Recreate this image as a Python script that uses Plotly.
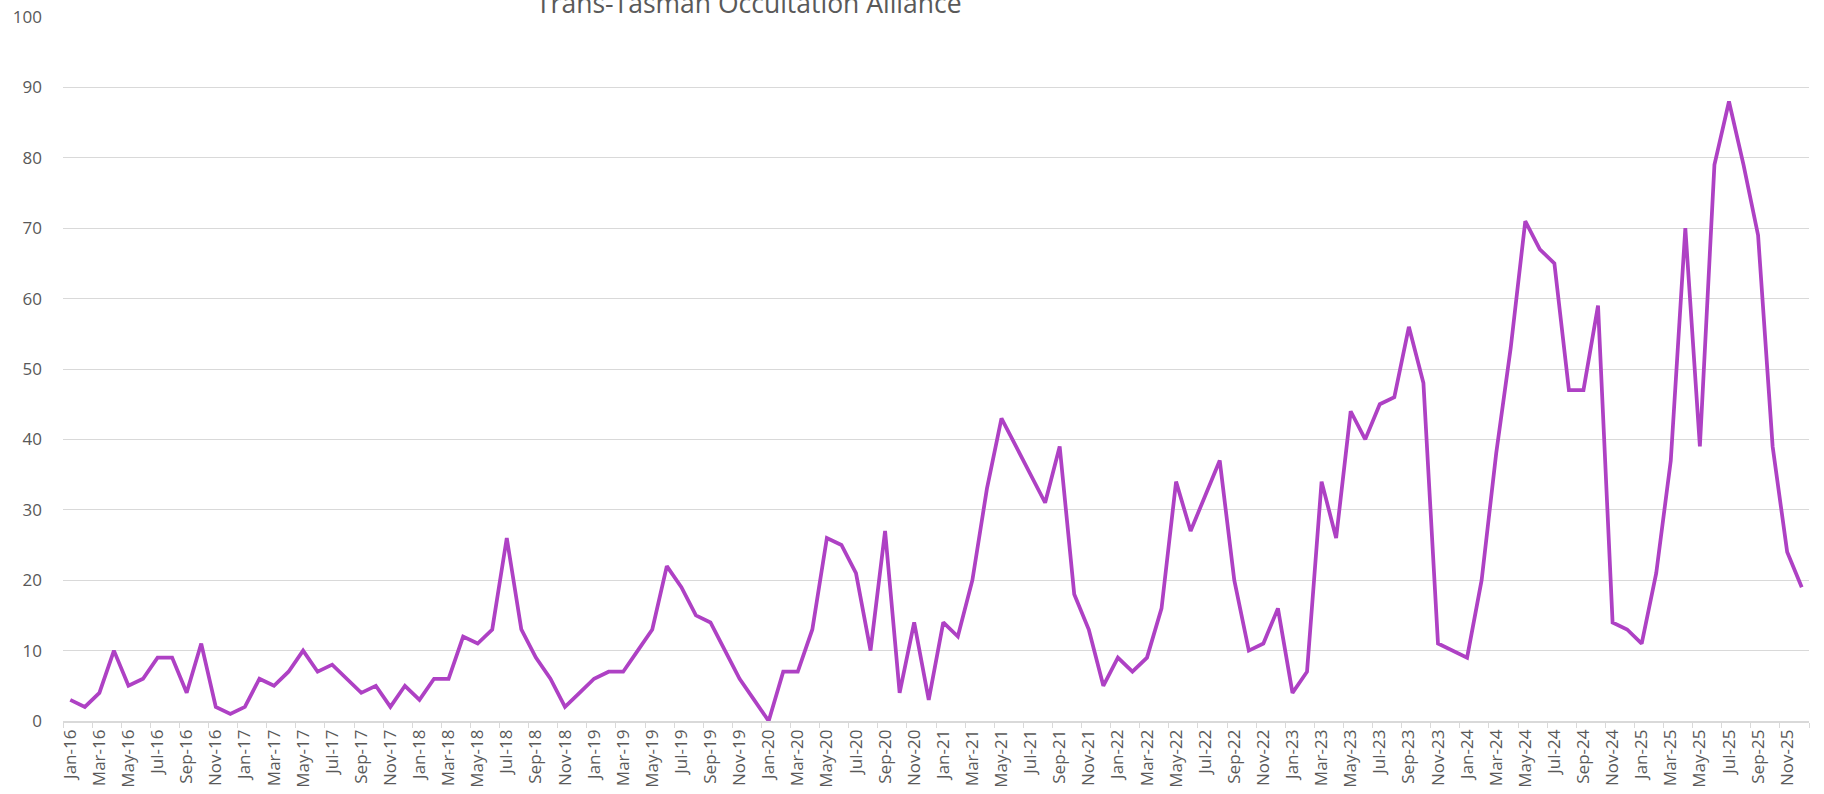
import plotly.graph_objects as go

MONTHS = ["Jan", "Feb", "Mar", "Apr", "May", "Jun", "Jul", "Aug", "Sep", "Oct", "Nov", "Dec"]
YEARS = ["16", "17", "18", "19", "20", "21", "22", "23", "24", "25"]
categories = [f"{m}-{y}" for y in YEARS for m in MONTHS]

v2016 = [3, 2, 4, 10, 5, 6, 9, 9, 4, 11, 2, 1]
v2017 = [2, 6, 5, 7, 10, 7, 8, 6, 4, 5, 2, 5]
v2018 = [3, 6, 6, 12, 11, 13, 26, 13, 9, 6, 2, 4]
v2019 = [6, 7, 7, 10, 13, 22, 19, 15, 14, 10, 6, 3]
v2020 = [0, 7, 7, 13, 26, 25, 21, 10, 27, 4, 14, 3]
v2021 = [14, 12, 20, 33, 43, 39, 35, 31, 39, 18, 13, 5]
v2022 = [9, 7, 9, 16, 34, 27, 32, 37, 20, 10, 11, 16]
v2023 = [4, 7, 34, 26, 44, 40, 45, 46, 56, 48, 11, 10]
v2024 = [9, 20, 38, 53, 71, 67, 65, 47, 47, 59, 14, 13]
v2025 = [11, 21, 37, 70, 39, 79, 88, 79, 69, 39, 24, 19]
values = v2016 + v2017 + v2018 + v2019 + v2020 + v2021 + v2022 + v2023 + v2024 + v2025

title_text = "Trans-Tasman Occultation Alliance"
y_ticks = [0, 10, 20, 30, 40, 50, 60, 70, 80, 90, 100]

FONT = "Open Sans"
GREY = "#595959"
GRID = "#d9d9d9"

fig = go.Figure()
fig.add_trace(go.Scatter(
    x=categories, y=values, mode="lines",
    line=dict(color="#AE41C4", width=3.75),
    hoverinfo="x+y", showlegend=False,
))

fig.update_layout(
    width=1824, height=794,
    margin=dict(l=63, r=15, t=17, b=73),
    paper_bgcolor="white", plot_bgcolor="white",
    font=dict(family=FONT, color=GREY, size=17),
    xaxis=dict(
        type="category", categoryorder="array", categoryarray=categories,
        dtick=2, tickson="boundaries", ticks="outside", ticklen=5, tickcolor=GRID,
        tickangle=-90, showgrid=False, showline=True, linecolor=GRID, linewidth=1.5,
        tickfont=dict(family=FONT, size=17, color=GREY),
        range=[-0.5, len(categories) - 0.5], automargin=False,
    ),
    yaxis=dict(
        range=[0, 100], tickvals=y_ticks, showgrid=True, gridcolor=GRID, gridwidth=1.3,
        zeroline=False, ticks="", showline=False,
        tickfont=dict(family=FONT, size=17, color=GREY),
        ticklabelstandoff=20, automargin=False,
    ),
    annotations=[dict(
        text=title_text, xref="paper", yref="paper", x=0.393, y=1,
        xanchor="center", yanchor="bottom", showarrow=False, yshift=-6,
        font=dict(family=FONT, size=26.5, color=GREY),
    )],
)

# remove the browser's default 8px body margin so the figure sits at (0, 0)
fig.write_html(
    "out.html",
    config={"displayModeBar": False},
    post_script="document.body.style.margin='0';",
)
